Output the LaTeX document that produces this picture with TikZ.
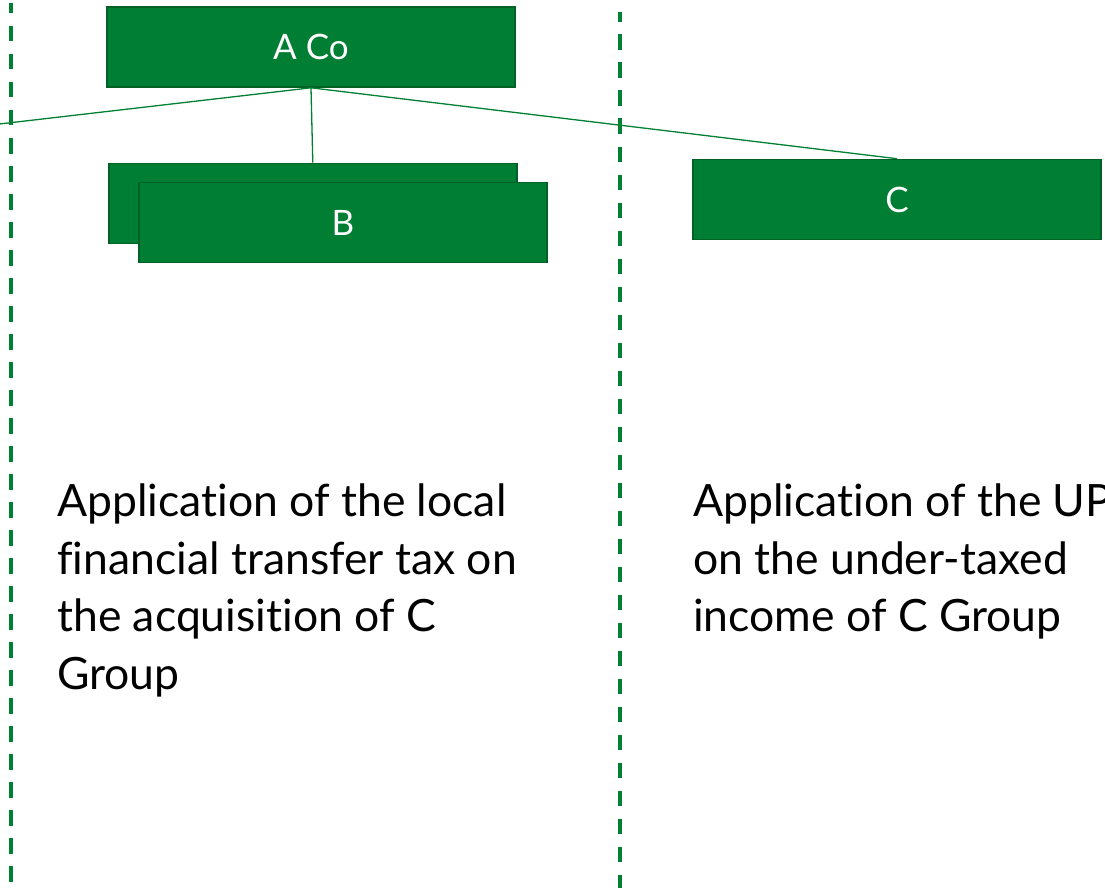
\documentclass[tikz,border=0pt]{standalone}
\usepackage{fontspec}
\setmainfont[Ligatures=NoCommon]{Lato}
\definecolor{boxgreen}{RGB}{0,126,51}
\definecolor{boxedge}{RGB}{0,96,38}
\definecolor{linkgreen}{RGB}{0,128,50}
\tikzset{
  entity/.style={draw=boxedge, line width=1.6pt, fill=boxgreen, text=white,
    minimum width=408pt, minimum height=80pt, inner sep=0pt,
    font=\fontsize{35}{40}\selectfont},
  link/.style={draw=linkgreen, line width=1.3pt},
  divider/.style={draw=linkgreen, line width=3.6pt, dash pattern=on 15.5pt off 12.5pt},
  note/.style={align=left, inner sep=0pt, anchor=north west,
    font=\fontsize{44.5}{57.5}\selectfont}
}
\begin{document}
\begin{tikzpicture}[x=1pt, y=-1pt]
\useasboundingbox (0,0) rectangle (1105,888);
\clip (0,0) rectangle (1105,888);

% column separators
\draw[divider, dash phase=5pt] (11,3) -- (11,888);
\draw[divider, dash phase=5.5pt] (620,12) -- (620,888);

% entities
\node[entity] (aco) at (311,47) {A Co};
\node[entity] (bback) at (312.8,203.5) {};
\node[entity] (bfront) at (343,222.5) {B};
\node[entity] (c) at (897,199.5) {C};
\coordinate (offleft) at (-302,159);

% ownership links
\draw[link] (aco.south) -- (bback.north);
\draw[link] (aco.south) -- (c.north);
\draw[link] (aco.south) -- (offleft);

% commentary under each column
\node[note] (leftnote) at (57,484)
  {Application of the local\\financial transfer tax on\\the acquisition of C\\Group};
\node[note] (rightnote) at (693,484)
  {Application of the UPR\\on the under-taxed\\income of C Group};
\end{tikzpicture}
\end{document}
